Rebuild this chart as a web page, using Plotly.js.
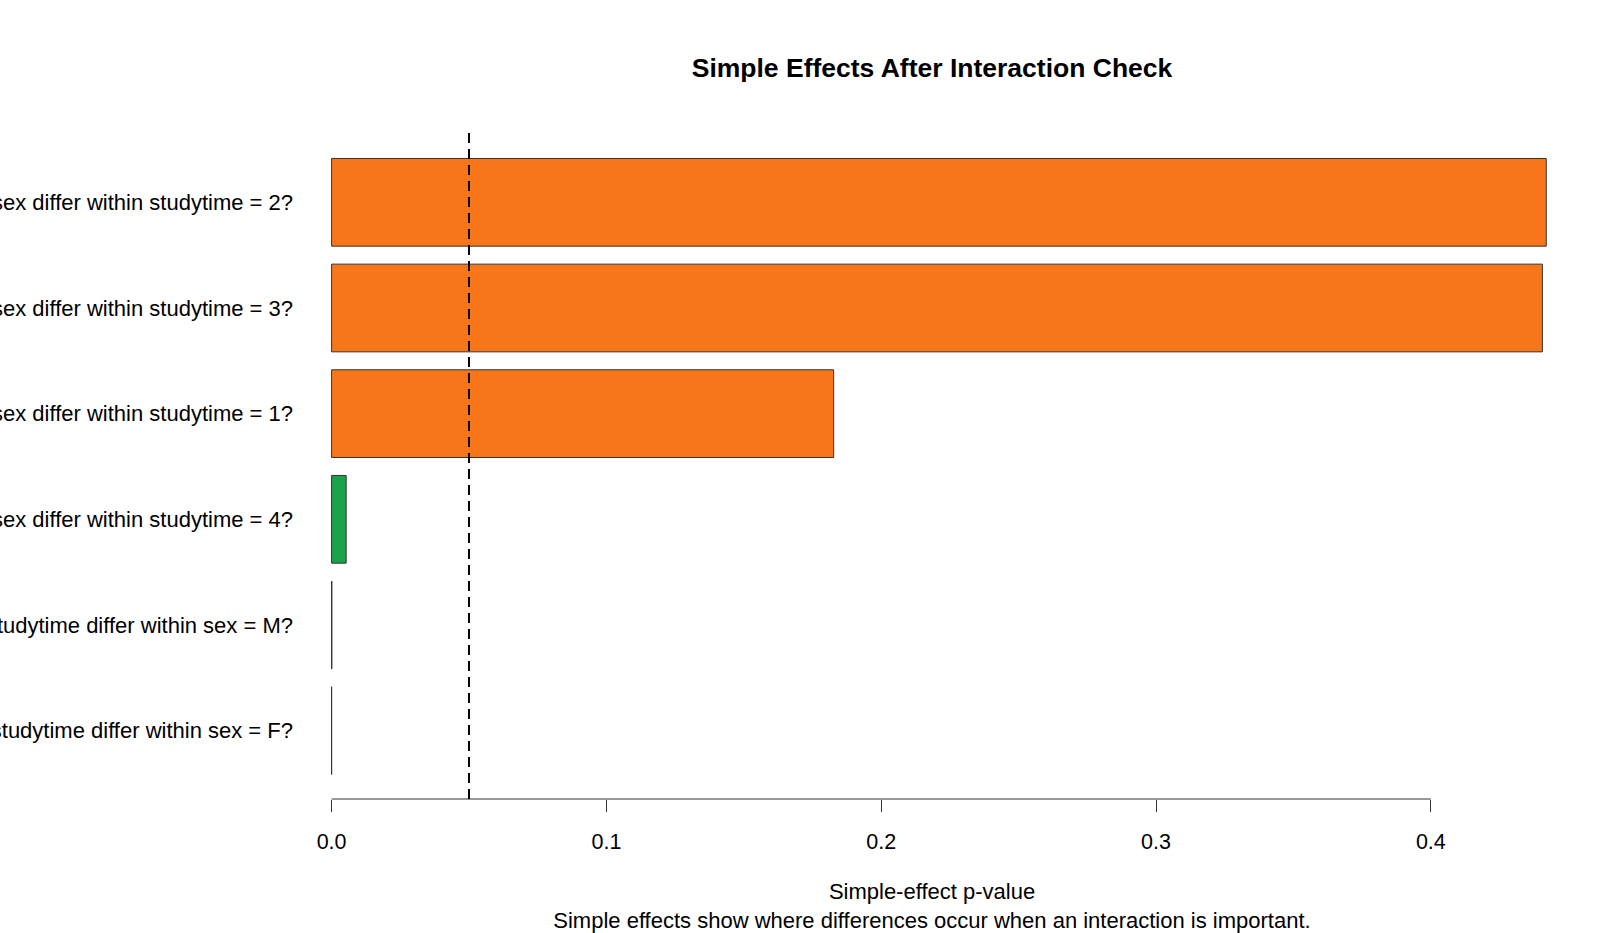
<!DOCTYPE html>
<html>
<head>
<meta charset="utf-8">
<script src="https://cdn.plot.ly/plotly-3.0.1.min.js"></script>
<style>html,body{margin:0;padding:0;background:#fff;}#chart{width:1600px;height:933px;}</style>
</head>
<body>
<div id="chart"></div>
<script>
// Data (bottom to top, as in an R horizontal barplot)
const questions = [
  "Does studytime differ within sex = F?",
  "Does studytime differ within sex = M?",
  "Does sex differ within studytime = 4?",
  "Does sex differ within studytime = 1?",
  "Does sex differ within studytime = 3?",
  "Does sex differ within studytime = 2?"
];
const pValues = [0.00001, 0.0001, 0.0053, 0.1827, 0.4406, 0.4420];
const alpha = 0.05;
const tickValues = [0, 0.1, 0.2, 0.3, 0.4];
const tickLabels = ["0.0", "0.1", "0.2", "0.3", "0.4"];

const colors = pValues.map(p => p < alpha ? "#1BA34C" : "#F8761A");

const trace = {
  type: "bar",
  orientation: "h",
  x: pValues,
  y: questions,
  marker: {color: colors, line: {color: "#333333", width: 1}},
  hoverinfo: "x+y"
};

const layout = {
  width: 1600, height: 933,
  paper_bgcolor: "#ffffff", plot_bgcolor: "#ffffff",
  margin: {l: 304, r: 40, t: 133, b: 134, pad: 0},
  font: {family: "Liberation Sans, Arial, sans-serif", size: 21.5, color: "#000"},
  showlegend: false,
  bargap: 0.17,
  title: {
    text: "<b>Simple Effects After Interaction Check</b>",
    font: {size: 26.5, color: "#000"},
    xref: "paper", x: 0.5, xanchor: "center",
    yref: "container", y: 1 - 67.5/933, yanchor: "middle"
  },
  xaxis: {
    range: [-0.01004, 0.4470],
    tickvals: tickValues, ticktext: tickLabels,
    ticks: "outside", ticklen: 12, tickcolor: "#333", tickwidth: 1,
    showgrid: false, zeroline: false, showline: false,
    ticklabelstandoff: 11,
    tickfont: {size: 21.5},
    title: {
      text: "Simple-effect p-value<br>Simple effects show where differences occur when an interaction is important.",
      font: {size: 22}, standoff: 34
    }
  },
  yaxis: {
    type: "category",
    range: [-0.647, 5.656],
    showgrid: false, zeroline: false, showline: false, ticks: "",
    ticklabelstandoff: 10,
    tickfont: {size: 22}
  },
  shapes: [
    {type: "line", xref: "x", yref: "paper", x0: tickValues[0], x1: tickValues[tickValues.length-1], y0: 0, y1: 0,
     line: {color: "#333", width: 1}},
    {type: "line", xref: "x", yref: "paper", x0: alpha, x1: alpha, y0: 0, y1: 1,
     line: {color: "#000", width: 2, dash: "10px,6px"}}
  ]
};

Plotly.newPlot("chart", [trace], layout, {displayModeBar: false, staticPlot: true});
</script>
</body>
</html>
